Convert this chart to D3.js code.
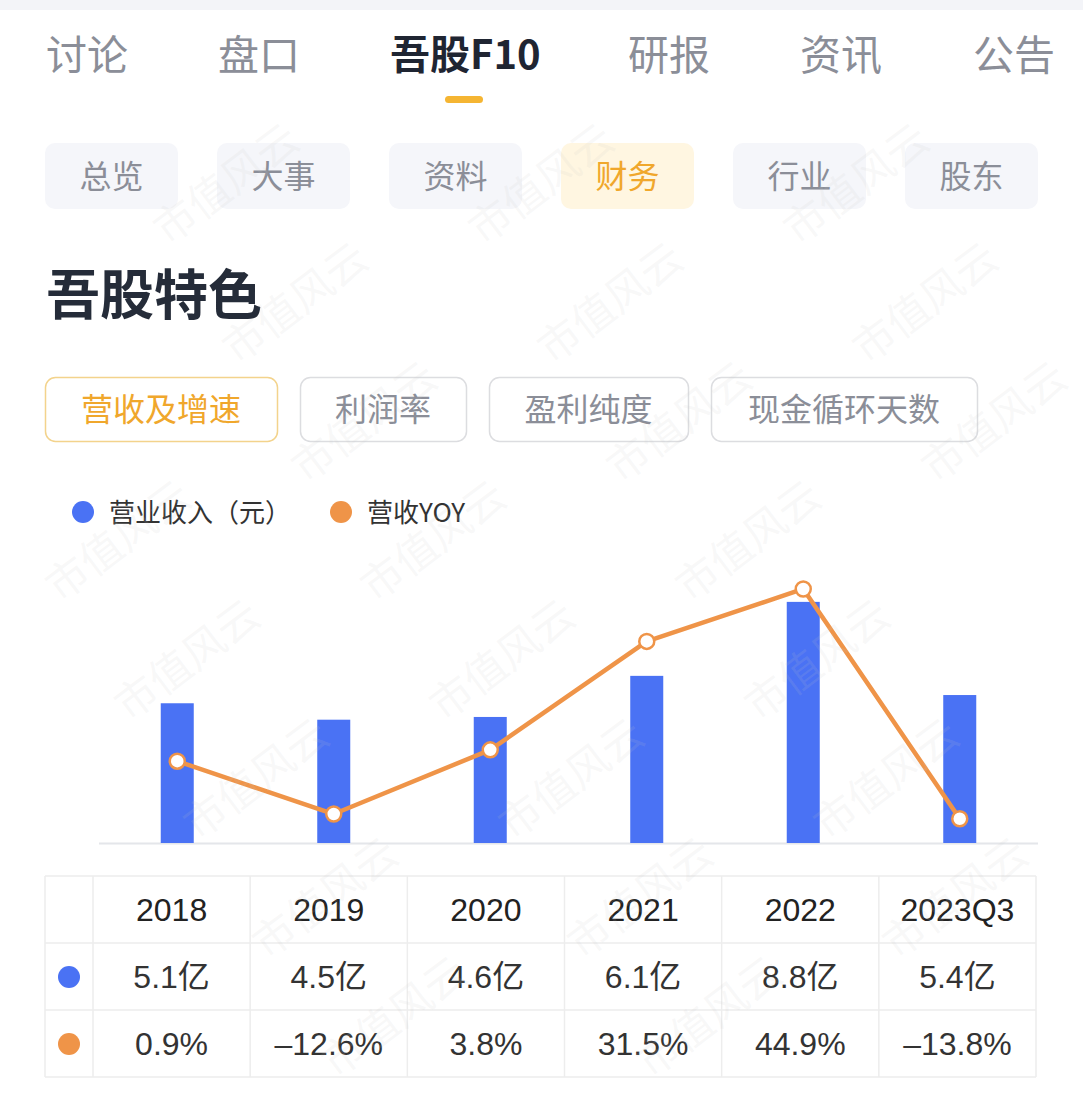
<!DOCTYPE html>
<html>
<head>
<meta charset="utf-8">
<script src="https://cdn.jsdelivr.net/npm/d3@7"></script>
<style>
  html, body { margin: 0; padding: 0; background: #fff; }
  svg { display: block; font-family: "Noto Sans CJK SC", "Noto Sans", sans-serif; }
</style>
</head>
<body>
<div class="canvas"></div>
<script>
// chart data
const categories = ['2018', '2019', '2020', '2021', '2022', '2023Q3'];
const revenue = [5.1, 4.5, 4.6, 6.1, 8.8, 5.4];        // 营业收入, 亿元
const yoy = [0.9, -12.6, 3.8, 31.5, 44.9, -13.8];      // 营收YOY, %

// page labels
const topTabs = ['讨论', '盘口', '吾股F10', '研报', '资讯', '公告'];
const subTabs = ['总览', '大事', '资料', '财务', '行业', '股东'];
const metricTabs = ['营收及增速', '利润率', '盈利纯度', '现金循环天数'];
const legendNames = ['营业收入（元）', '营收YOY'];

const blue = '#4a72f4';
const orange = '#ef9448';

const svg = d3.select('.canvas')
    .append('svg')
    .attr('width', 1083)
    .attr('height', 1093);

// top strip
svg.append('rect').attr('x', 0).attr('y', 0).attr('width', 1083).attr('height', 10).attr('fill', '#f3f4f8');

// top tabs
const topX = [46, 218, 390, 628, 800, 973];
svg.selectAll('.toptab')
    .data(topTabs)
    .enter()
    .append('text')
    .attr('class', 'toptab')
    .attr('x', (d, i) => topX[i])
    .attr('y', 52)
    .attr('dominant-baseline', 'central')
    .attr('font-size', (d, i) => i === 2 ? 40 : 41)
    .attr('font-weight', (d, i) => i === 2 ? 700 : 400)
    .attr('fill', (d, i) => i === 2 ? '#1f2532' : '#8b8e98')
    .text(d => d);

svg.append('rect')
    .attr('x', 445).attr('y', 96).attr('width', 38).attr('height', 7).attr('rx', 3.5)
    .attr('fill', '#f5b532');

// sub tabs
const subX = d3.scaleBand().domain(subTabs).range([45, 45 + 172 * 6]);
const subG = svg.selectAll('.subtab')
    .data(subTabs)
    .enter()
    .append('g')
    .attr('class', 'subtab');

subG.append('rect')
    .attr('x', d => subX(d))
    .attr('y', 143)
    .attr('width', 133)
    .attr('height', 66)
    .attr('rx', 10)
    .attr('fill', d => d === '财务' ? '#fff6e1' : '#f5f6fa');

subG.append('text')
    .attr('x', d => subX(d) + 66.5)
    .attr('y', 174)
    .attr('text-anchor', 'middle')
    .attr('dominant-baseline', 'central')
    .attr('font-size', 32)
    .attr('fill', d => d === '财务' ? '#f0a72c' : '#8b8e98')
    .text(d => d);

// section title
svg.append('text')
    .attr('x', 46).attr('y', 291)
    .attr('dominant-baseline', 'central')
    .attr('font-size', 54)
    .attr('font-weight', 700)
    .attr('fill', '#252c39')
    .text('吾股特色');

// metric buttons
const btnBox = [[45, 277], [300, 466], [489, 688], [711, 977]];
const btnG = svg.selectAll('.btn')
    .data(metricTabs)
    .enter()
    .append('g')
    .attr('class', 'btn');

btnG.append('rect')
    .attr('x', (d, i) => btnBox[i][0] + 0.5)
    .attr('y', 377.5)
    .attr('width', (d, i) => btnBox[i][1] - btnBox[i][0])
    .attr('height', 64)
    .attr('rx', 10)
    .attr('fill', '#fff')
    .attr('stroke', (d, i) => i === 0 ? '#f3d38c' : '#dcdde0')
    .attr('stroke-width', 1.5);

btnG.append('text')
    .attr('x', (d, i) => (btnBox[i][0] + btnBox[i][1]) / 2)
    .attr('y', 407)
    .attr('text-anchor', 'middle')
    .attr('dominant-baseline', 'central')
    .attr('font-size', 32)
    .attr('fill', (d, i) => i === 0 ? '#f0a72c' : '#8b8e98')
    .text(d => d);

// legend
const legendX = [83, 341];
const legendColors = [blue, orange];
const legG = svg.selectAll('.leg')
    .data(legendNames)
    .enter()
    .append('g')
    .attr('class', 'leg');

legG.append('circle')
    .attr('cx', (d, i) => legendX[i])
    .attr('cy', 512)
    .attr('r', 11)
    .attr('fill', (d, i) => legendColors[i]);

legG.append('text')
    .attr('x', (d, i) => legendX[i] + 26)
    .attr('y', 510)
    .attr('dominant-baseline', 'central')
    .attr('font-size', 26)
    .attr('fill', '#333')
    .text(d => d);

// scales
const x = d3.scaleBand()
    .domain(categories)
    .range([99, 1038]);
const barW = 33;

const y = d3.scaleLinear()
    .domain([0, 10])
    .range([843, 569]);

const y2 = d3.scaleLinear()
    .domain([-20, 50])
    .range([843, 569]);

const cx = d => x(d) + x.bandwidth() / 2;

// baseline
svg.append('line')
    .attr('x1', 99).attr('x2', 1038)
    .attr('y1', 843.5).attr('y2', 843.5)
    .attr('stroke', '#e4e6ea')
    .attr('stroke-width', 2);

// bars
svg.selectAll('.bar')
    .data(categories)
    .enter()
    .append('rect')
    .attr('class', 'bar')
    .attr('x', d => cx(d) - barW / 2)
    .attr('y', (d, i) => y(revenue[i]))
    .attr('width', barW)
    .attr('height', (d, i) => y(0) - y(revenue[i]))
    .attr('fill', blue);

// yoy line
const line = d3.line()
    .x(d => cx(d))
    .y((d, i) => y2(yoy[i]));

svg.append('path')
    .datum(categories)
    .attr('d', line)
    .attr('fill', 'none')
    .attr('stroke', orange)
    .attr('stroke-width', 4.5)
    .attr('stroke-linejoin', 'round');

svg.selectAll('.pt')
    .data(categories)
    .enter()
    .append('circle')
    .attr('class', 'pt')
    .attr('cx', d => cx(d))
    .attr('cy', (d, i) => y2(yoy[i]))
    .attr('r', 7.5)
    .attr('fill', '#fff')
    .attr('stroke', orange)
    .attr('stroke-width', 2.5);

// table
const tx = d3.scaleBand()
    .domain(categories)
    .range([93, 1036]);
const rowY = [876, 943, 1010, 1077];
const grid = svg.append('g')
    .attr('stroke', '#ededed')
    .attr('stroke-width', 1.5);

grid.selectAll('.hline')
    .data(rowY)
    .enter()
    .append('line')
    .attr('x1', 45).attr('x2', 1036)
    .attr('y1', d => d).attr('y2', d => d);

grid.selectAll('.vline')
    .data([45, 93].concat(categories.map(d => tx(d) + tx.bandwidth())))
    .enter()
    .append('line')
    .attr('x1', d => d).attr('x2', d => d)
    .attr('y1', rowY[0]).attr('y2', rowY[3]);

const colC = d => tx(d) + tx.bandwidth() / 2;
const numFont = '"Liberation Sans", Arial, "Noto Sans CJK SC", sans-serif';

svg.selectAll('.th')
    .data(categories)
    .enter()
    .append('text')
    .attr('x', d => colC(d))
    .attr('y', 910)
    .attr('text-anchor', 'middle')
    .attr('dominant-baseline', 'central')
    .attr('font-family', numFont)
    .attr('font-size', 32)
    .attr('fill', '#222')
    .text(d => d);

svg.selectAll('.tdRev')
    .data(categories)
    .enter()
    .append('text')
    .attr('x', d => colC(d))
    .attr('y', 977)
    .attr('text-anchor', 'middle')
    .attr('dominant-baseline', 'central')
    .attr('font-family', numFont)
    .attr('font-size', 32)
    .attr('fill', '#333')
    .text((d, i) => `${revenue[i].toFixed(1)}亿`);

svg.selectAll('.tdYoy')
    .data(categories)
    .enter()
    .append('text')
    .attr('x', d => colC(d))
    .attr('y', 1044)
    .attr('text-anchor', 'middle')
    .attr('dominant-baseline', 'central')
    .attr('font-family', numFont)
    .attr('font-size', 32)
    .attr('fill', '#333')
    .text((d, i) => (yoy[i] < 0 ? '–' : '') + Math.abs(yoy[i]).toFixed(1) + '%');

svg.append('circle').attr('cx', 69).attr('cy', 977).attr('r', 11).attr('fill', blue);
svg.append('circle').attr('cx', 69).attr('cy', 1044).attr('r', 11).attr('fill', orange);

// watermark, kept to the inner area
const marks = [];
for (let n = 0; n < 9; n++) {
    for (let k = -3; k < 4; k++) {
        const mx = 155 + 69 * n + 315 * k;
        const my = 62 + 119 * n;
        if (mx > 80 && mx < 1000 && my > 100 && my < 1030) marks.push([mx, my]);
    }
}
svg.append('g')
    .selectAll('text')
    .data(marks)
    .enter()
    .append('text')
    .attr('transform', d => `translate(${d[0]}, ${d[1]}) rotate(-37)`)
    .attr('text-anchor', 'middle')
    .attr('dominant-baseline', 'central')
    .attr('font-size', 42)
    .attr('fill', '#c8c8c8')
    .attr('fill-opacity', 0.13)
    .text('市值风云');
</script>
</body>
</html>
